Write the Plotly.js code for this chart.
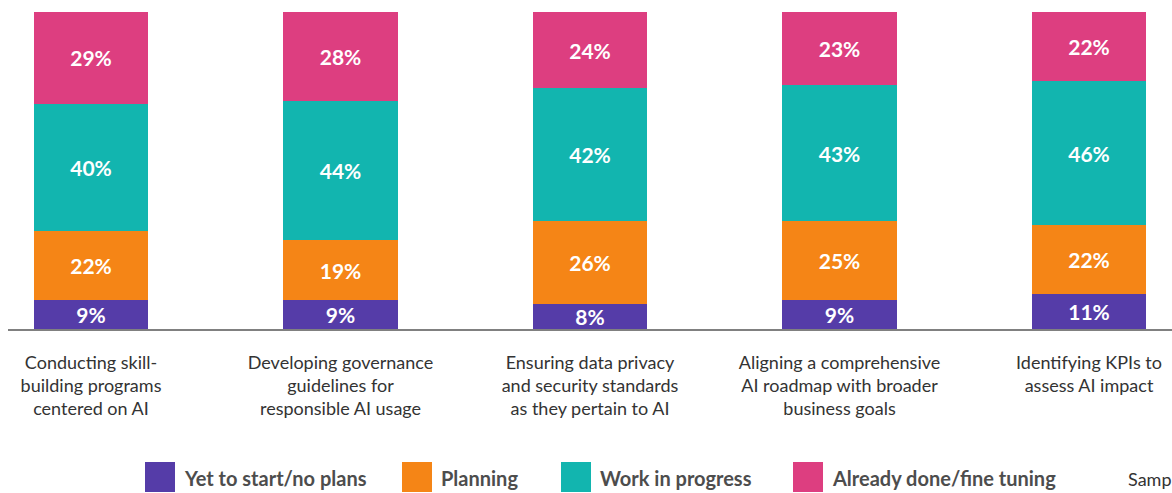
<!DOCTYPE html>
<html>
<head>
<meta charset="utf-8">
<script src="https://cdn.plot.ly/plotly-3.0.1.min.js"></script>
<style>html,body{margin:0;padding:0;background:#fff;}#chart{width:1172px;height:493px;}</style>
</head>
<body>
<div id="chart"></div>
<script>
const categories = [
  "Conducting skill-<br>building programs<br>centered on AI",
  "Developing governance<br>guidelines for<br>responsible AI usage",
  "Ensuring data privacy<br>and security standards<br>as they pertain to AI",
  "Aligning a comprehensive<br>AI roadmap with broader<br>business goals",
  "Identifying KPIs to<br>assess AI impact"
];
const seriesNames = ["Yet to start/no plans", "Planning", "Work in progress", "Already done/fine tuning"];
const yetToStart = [9, 9, 8, 9, 11];
const planning = [22, 19, 26, 25, 22];
const workInProgress = [40, 44, 42, 43, 46];
const alreadyDone = [29, 28, 24, 23, 22];
const colors = ["#553CA8", "#F58516", "#12B5AF", "#DD3E80"];
const sampleNote = "Samp";

const FONT = "Lato, 'Open Sans', sans-serif";
const seriesValues = [yetToStart, planning, workInProgress, alreadyDone];
const xIdx = categories.map((c, i) => i);

const traces = seriesValues.map((vals, s) => ({
  type: "bar",
  name: seriesNames[s],
  x: xIdx,
  y: vals,
  text: vals.map(v => v + "%"),
  textposition: "inside",
  insidetextanchor: "middle",
  constraintext: "none",
  textangle: 0,
  textfont: {family: FONT, size: 21, color: "#ffffff", weight: "bold"},
  marker: {color: colors[s], line: {width: 0}},
  width: 0.457,
  showlegend: false,
  hoverinfo: "skip"
}));

// plot-area geometry helpers (layout only)
const L = 8, R = 1172, T = 12, B = 329;
const px2x = p => (p - L) / (R - L);
const py2y = p => (B - p) / (B - T);

const legendX = [145, 402, 561, 793];
const shapes = [];
const annotations = [];
seriesNames.forEach((n, i) => {
  shapes.push({type: "rect", xref: "paper", yref: "paper",
    x0: px2x(legendX[i]), x1: px2x(legendX[i] + 30),
    y0: py2y(492), y1: py2y(462),
    fillcolor: colors[i], line: {width: 0}});
  annotations.push({xref: "paper", yref: "paper", x: px2x(legendX[i] + 37), y: py2y(478),
    xanchor: "left", yanchor: "middle", showarrow: false, text: n,
    font: {family: FONT, size: 20, color: "#4d4d4d", weight: "bold"}});
});
annotations.push({xref: "paper", yref: "paper", x: px2x(1126), y: py2y(479),
  xanchor: "left", yanchor: "middle", showarrow: false, text: sampleNote,
  font: {family: FONT, size: 18, color: "#333333"}});

const layout = {
  width: 1172, height: 493,
  margin: {l: L, r: 1172 - R, t: T, b: 493 - B, pad: 0},
  paper_bgcolor: "#ffffff", plot_bgcolor: "#ffffff",
  barmode: "stack",
  barnorm: "percent",
  xaxis: {
    range: [-(91 - L) / 249.5, 4 + (R - 1089) / 249.5],
    tickmode: "array", tickvals: xIdx, ticktext: categories,
    showline: true, linecolor: "#808080", linewidth: 2,
    ticks: "", showgrid: false, zeroline: false,
    tickfont: {family: FONT, size: 18, color: "#333333"},
    ticklabelstandoff: 16,
    fixedrange: true
  },
  yaxis: {range: [0, 100], visible: false, showgrid: false, zeroline: false, fixedrange: true},
  shapes: shapes,
  annotations: annotations,
  showlegend: false
};

Plotly.newPlot("chart", traces, layout, {displayModeBar: false, staticPlot: true});
</script>
</body>
</html>
